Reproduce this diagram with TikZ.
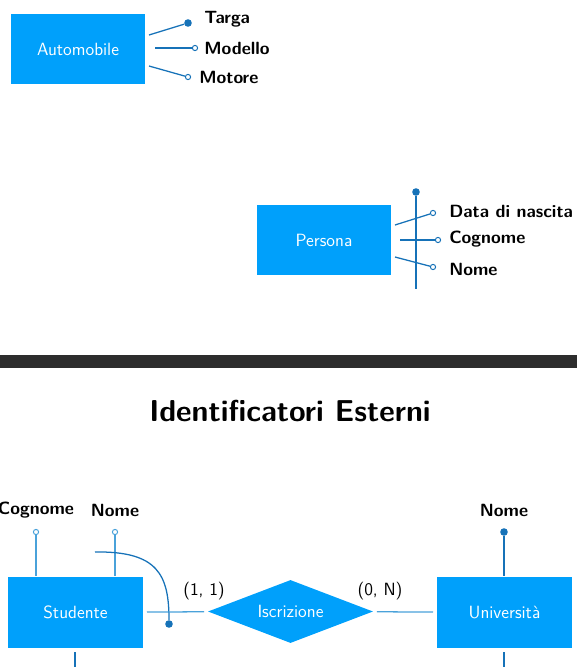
\documentclass[tikz,border=0pt]{standalone}
\usepackage{tikz}
\usetikzlibrary{shapes.geometric,positioning}

\definecolor{entblue}{HTML}{00A0FB}
\definecolor{linkblue}{HTML}{1672B8}
\definecolor{softblue}{HTML}{4AA2DA}
\definecolor{bardark}{HTML}{2D2D2D}

\tikzset{
  entity/.style={fill=entblue, text=white, inner sep=0pt,
    minimum width=3.35cm, minimum height=1.75cm, font=\sffamily\fontsize{12.6}{14}\selectfont},
  relation/.style={diamond, fill=entblue, text=white, inner sep=0pt, aspect=2.62,
    minimum width=4.125cm, minimum height=1.575cm, font=\sffamily\fontsize{12.6}{14}\selectfont},
  attrname/.style={inner sep=0pt, font=\sffamily\bfseries\fontsize{12.6}{14}\selectfont},
  card/.style={inner sep=0pt, font=\sffamily\fontsize{12.6}{14}\selectfont},
  attrempty/.style={circle, draw=linkblue, fill=white, line width=0.7pt, inner sep=0pt, minimum size=0.13cm},
  attrkey/.style={circle, fill=linkblue, inner sep=0pt, minimum size=0.19cm},
  link/.style={linkblue, line width=0.9pt},
  softlink/.style={softblue, line width=0.9pt}
}

\begin{document}
\begin{tikzpicture}[x=0.025cm,y=-0.025cm]
  \useasboundingbox (0,0) rectangle (577,667);

  % Automobile
  \node[entity] (auto) at (78,49) {Automobile};
  \coordinate (auto-targa) at (149,35);
  \coordinate (auto-modello) at (155,48);
  \coordinate (auto-motore) at (149,66);
  \node[attrkey] (targa-c) at (188,23) {};
  \node[attrempty] (modello-c) at (195,48) {};
  \node[attrempty] (motore-c) at (188,77) {};
  \node[attrname, anchor=west] (targa) at (204,19) {Targa};
  \node[attrname, anchor=west] (modello) at (204,48) {Modello};
  \node[attrname, anchor=west] (motore) at (199,77) {Motore};
  \draw[link] (auto-targa) -- (targa-c);
  \draw[link] (auto-modello) -- (modello-c);
  \draw[link] (auto-motore) -- (motore-c);

  % Persona, identificatore composto
  \node[entity] (persona) at (324,240) {Persona};
  \node[attrkey] (pers-key) at (416,192) {};
  \coordinate (pers-end) at (416,289);
  \draw[link] (pers-key) -- (pers-end);
  \coordinate (pers-data) at (395,225);
  \coordinate (pers-cogn) at (400,240);
  \coordinate (pers-nome) at (395,257);
  \node[attrempty] (data-c) at (433,213) {};
  \node[attrempty] (cogn-c) at (438,240) {};
  \node[attrempty] (nome-c) at (433,267) {};
  \node[attrname, anchor=west] (data) at (449,211) {Data di nascita};
  \node[attrname, anchor=west] (cogn) at (449,239) {Cognome};
  \node[attrname, anchor=west] (nome) at (449,269) {Nome};
  \draw[link] (pers-data) -- (data-c);
  \draw[link] (pers-cogn) -- (cogn-c);
  \draw[link] (pers-nome) -- (nome-c);

  % barra fra le slide
  \fill[bardark] (0,355) rectangle (577,368);

  \node[inner sep=0pt, font=\sffamily\bfseries\fontsize{21.5}{26}\selectfont] (title) at (290,411) {Identificatori Esterni};

  % Studente -- Iscrizione -- Universita
  \node[entity] (stud) at (75.5,612.5) {Studente};
  \node[relation] (iscr) at (290.5,611.5) {Iscrizione};
  \node[entity] (univ) at (504.5,612.5) {Universit\`a};

  \node[attrname] (stud-cogn) at (36,510) {Cognome};
  \node[attrname] (stud-nome) at (115,510) {Nome};
  \node[attrempty, draw=softblue] (stud-cogn-c) at (36,532) {};
  \node[attrempty, draw=softblue] (stud-nome-c) at (115,532) {};
  \coordinate (stud-cogn-e) at (36,576);
  \coordinate (stud-nome-e) at (115,576);
  \draw[softlink] (stud-cogn-c) -- (stud-cogn-e);
  \draw[softlink] (stud-nome-c) -- (stud-nome-e);

  \coordinate (ext-start) at (95,552);
  \node[attrkey] (ext-key) at (169,624) {};
  \draw[link] (ext-start) .. controls (158,551) and (169,575) .. (ext-key);

  \coordinate (stud-r) at (147,612);
  \draw[softlink, shorten >=3pt] (stud-r) -- (iscr);
  \coordinate (univ-l) at (433,612);
  \draw[softlink, shorten <=3pt] (iscr) -- (univ-l);
  \node[card] (card-stud) at (204,591) {(1, 1)};
  \node[card] (card-univ) at (380,591) {(0, N)};

  \node[attrname] (univ-nome) at (504,510) {Nome};
  \node[attrkey] (univ-nome-c) at (504,532) {};
  \coordinate (univ-nome-e) at (504,576);
  \draw[link] (univ-nome-c) -- (univ-nome-e);

  \coordinate (stud-b) at (75,652);
  \coordinate (stud-b2) at (75,667);
  \coordinate (univ-b) at (504,652);
  \coordinate (univ-b2) at (504,667);
  \draw[link] (stud-b) -- (stud-b2);
  \draw[link] (univ-b) -- (univ-b2);
\end{tikzpicture}
\end{document}
